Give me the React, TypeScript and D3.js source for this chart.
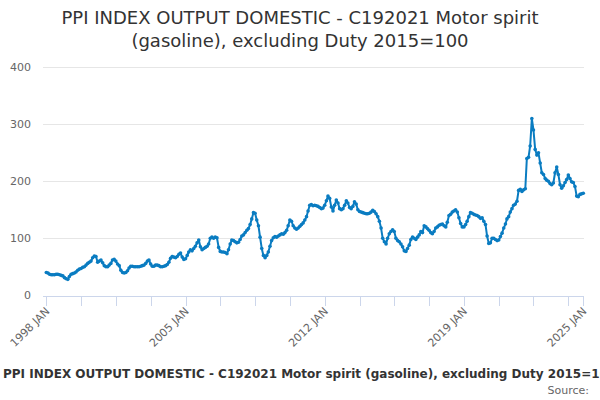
import React, { useEffect, useRef } from "react";
import * as d3 from "d3";

const startYear = 1998;

// monthly index values, Jan 1998 .. Jan 2025
const values = [
  // 1998
  40, 39, 37, 36, 36, 36, 37, 37, 36, 35, 34, 31,
  // 1999
  29, 28, 33, 37, 38, 39, 41, 44, 46, 47, 49, 50,
  // 2000
  53, 56, 58, 60, 66, 69, 68, 58, 60, 62, 57, 52,
  // 2001
  50, 50, 53, 56, 62, 63, 60, 55, 52, 44, 40, 39,
  // 2002
  40, 43, 48, 51, 51, 50, 50, 50, 50, 51, 52, 53,
  // 2003
  56, 60, 62, 55, 51, 51, 53, 53, 52, 50, 50, 51,
  // 2004
  52, 54, 58, 65, 68, 67, 66, 68, 72, 74, 67, 63,
  // 2005
  64, 70, 76, 80, 78, 82, 86, 92, 97, 85, 80, 82,
  // 2006
  84, 86, 90, 100, 102, 100, 102, 101, 84, 77, 76, 76,
  // 2007
  75, 73, 80, 90, 97, 96, 94, 92, 93, 98, 104, 106,
  // 2008
  110, 114, 117, 124, 134, 145, 144, 132, 122, 102, 82, 70,
  // 2009
  66, 70, 76, 86, 96, 101, 103, 102, 104, 106, 108, 107,
  // 2010
  110, 114, 122, 132, 130, 122, 118, 116, 118, 121, 124, 127,
  // 2011
  132, 138, 148, 158, 159, 157, 158, 157, 156, 154, 152, 153,
  // 2012
  158, 166, 174, 170, 155, 148, 158, 167, 162, 152, 150, 152,
  // 2013
  158, 166, 162, 154, 152, 156, 164, 160, 150, 147, 146, 145,
  // 2014
  144, 143, 143, 144, 146, 149, 147, 143, 138, 130, 118, 100,
  // 2015
  94, 90, 100, 108, 112, 115, 112, 100, 96, 94, 90, 85,
  // 2016
  78, 77, 82, 88, 98, 102, 100, 98, 102, 106, 112, 110,
  // 2017
  122, 120, 117, 114, 110, 108, 112, 118, 120, 123, 124, 125,
  // 2018
  122, 120, 128, 140, 142, 146, 148, 150, 146, 136, 126, 120,
  // 2019
  120, 124, 130, 138, 145, 144, 142, 141, 140, 138, 135, 136,
  // 2020
  130, 124, 104, 91, 92, 100, 100, 98, 96, 97, 103, 109,
  // 2021
  118, 125, 134, 138, 146, 152, 158, 160, 165, 184, 186, 182,
  // 2022
  185, 187, 240, 242, 262, 310, 290, 256, 246, 250, 232, 215,
  // 2023
  212, 205, 202, 200, 196, 194, 197, 215, 225, 212, 194, 188,
  // 2024
  192, 198, 203, 211, 205, 199, 198, 191, 174, 173, 177, 178,
  // 2025
  179,
];

const yTicks = [0, 100, 200, 300, 400];
const labelYears = [1998, 2005, 2012, 2019, 2025];
const titleLines = [
  "PPI INDEX OUTPUT DOMESTIC - C192021 Motor spirit",
  "(gasoline), excluding Duty 2015=100",
];
const seriesName =
  "PPI INDEX OUTPUT DOMESTIC - C192021 Motor spirit (gasoline), excluding Duty 2015=100";

const App = () => {
  const width = 600;
  const height = 400;
  const svgRef = useRef(null);

  useEffect(() => {
    document.body.style.margin = "0";

    const svg = d3.select(svgRef.current);
    svg.selectAll("*").remove();

    const font = "'DejaVu Sans', sans-serif";
    const dates = values.map((d, i) => new Date(startYear, i, 1));

    const x = d3
      .scaleTime()
      .domain([new Date(startYear, 0, 1), new Date(2025, 0, 1)])
      .range([46.3, 583.3]);

    const y = d3.scaleLinear().domain([0, 400]).range([295.3, 67.3]);

    // title
    svg
      .append("text")
      .attr("x", 300)
      .attr("text-anchor", "middle")
      .attr("font-family", font)
      .attr("font-size", 18)
      .attr("fill", "#333333")
      .selectAll("tspan")
      .data(titleLines)
      .join("tspan")
      .attr("x", 300)
      .attr("y", (d, i) => 24 + i * 23)
      .text((d) => d);

    // grid
    svg
      .append("g")
      .selectAll("line")
      .data(yTicks.slice(1))
      .join("line")
      .attr("x1", 43)
      .attr("x2", 584)
      .attr("y1", (d) => Math.round(y(d)) + 0.5)
      .attr("y2", (d) => Math.round(y(d)) + 0.5)
      .attr("stroke", "#e6e6e6");

    svg
      .append("g")
      .selectAll("text")
      .data(yTicks)
      .join("text")
      .attr("x", 31)
      .attr("y", (d) => y(d) + 4)
      .attr("text-anchor", "end")
      .attr("font-family", font)
      .attr("font-size", 11)
      .attr("fill", "#666666")
      .text((d) => d);

    // x axis: ticks every 21 months plus the end
    const tickDates = d3.range(0, 324, 21).map((m) => new Date(startYear, m, 1));
    tickDates.push(new Date(2025, 0, 1));

    const xAxis = svg.append("g");
    xAxis
      .append("line")
      .attr("x1", 43)
      .attr("x2", 584)
      .attr("y1", 296.5)
      .attr("y2", 296.5)
      .attr("stroke", "#ccd6eb");
    xAxis
      .selectAll(".tick")
      .data(tickDates)
      .join("line")
      .attr("class", "tick")
      .attr("x1", (d) => Math.round(x(d)) + 0.5)
      .attr("x2", (d) => Math.round(x(d)) + 0.5)
      .attr("y1", 296)
      .attr("y2", 306)
      .attr("stroke", "#ccd6eb");
    xAxis
      .selectAll(".lbl")
      .data(labelYears)
      .join("text")
      .attr("class", "lbl")
      .attr("text-anchor", "end")
      .attr("font-family", font)
      .attr("font-size", 11)
      .attr("fill", "#666666")
      .attr(
        "transform",
        (d) => `translate(${x(new Date(d, 0, 1)) + 4},${312}) rotate(-45)`
      )
      .text((d) => `${d} JAN`);

    // series
    const line = d3
      .line()
      .x((d, i) => x(dates[i]))
      .y((d) => y(d));

    svg
      .append("path")
      .datum(values)
      .attr("d", line)
      .attr("fill", "none")
      .attr("stroke", "#0a7cc1")
      .attr("stroke-width", 2)
      .attr("stroke-linejoin", "round");

    svg
      .append("g")
      .selectAll("circle")
      .data(values)
      .join("circle")
      .attr("cx", (d, i) => x(dates[i]))
      .attr("cy", (d) => y(d))
      .attr("r", 1.8)
      .attr("fill", "#0a7cc1");

    // legend + credits
    svg
      .append("text")
      .attr("x", 3)
      .attr("y", 378)
      .attr("font-family", font)
      .attr("font-size", 12)
      .attr("font-weight", "bold")
      .attr("fill", "#333333")
      .text(seriesName);

    svg
      .append("text")
      .attr("x", 589)
      .attr("y", 394)
      .attr("text-anchor", "end")
      .attr("font-family", font)
      .attr("font-size", 11)
      .attr("fill", "#666666")
      .text("Source:");
  }, []);

  return (
    <svg
      ref={svgRef}
      width={width}
      height={height}
      style={{ display: "block", background: "#ffffff" }}
    ></svg>
  );
};

export default App;
